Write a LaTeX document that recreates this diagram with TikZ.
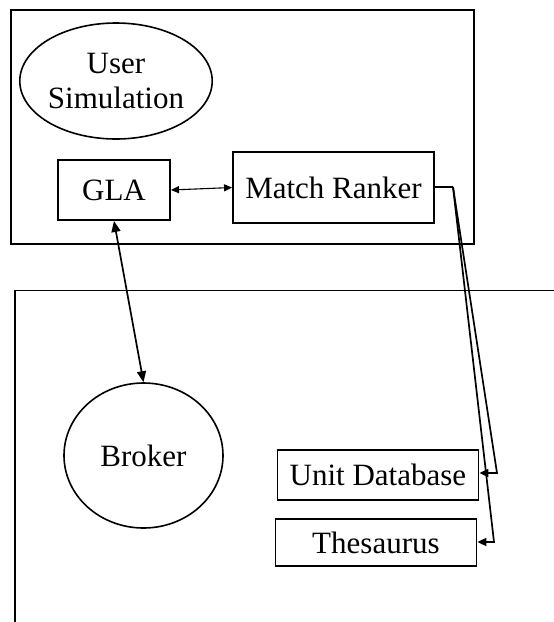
\documentclass[tikz,border=0pt]{standalone}
\usepackage{fontspec}
\setmainfont{Liberation Serif}
\usetikzlibrary{arrows.meta,shapes.geometric}
\begin{document}
\begin{tikzpicture}[x=1pt,y=-1pt,
  every node/.style={font=\fontsize{31}{37}\selectfont},
  frame/.style={draw,line width=1.9pt},
  boxnode/.style={draw,line width=1.9pt,rectangle,inner sep=0pt,anchor=center},
  oval/.style={draw,line width=1.6pt,ellipse,inner sep=0pt,align=center},
  link/.style={line width=1.7pt},
  bigtip/.style={{Triangle[length=11pt,width=9pt]}-{Triangle[length=11pt,width=9pt]}},
  smalltip/.style={{Triangle[length=8pt,width=7pt]}-{Triangle[length=8pt,width=7pt]}},
  endtip/.style={-{Triangle[length=9pt,width=8pt]}}]
\useasboundingbox (0,0) rectangle (554,622);

% outer frames
\draw[frame] (11,10) rectangle (474,244);
\draw[frame] (15,622) -- (15,290.5) -- (554,290.5);

% upper group
\node[oval,minimum width=178pt,minimum height=116pt] (user) at (116,81) {User\\[-2pt]Simulation};
\node[boxnode,minimum width=112pt,minimum height=60pt] (gla) at (114,190) {GLA};
\node[boxnode,minimum width=201pt,minimum height=71pt] (mr) at (333.5,187.5) {Match Ranker};

% lower group
\node[oval,minimum width=159pt,minimum height=145pt] (broker) at (143.5,455.5) {Broker};
\node[boxnode,minimum width=201pt,minimum height=50pt] (udb) at (276.5,475) [anchor=west] {Unit Database};
\node[boxnode,minimum width=201pt,minimum height=47pt] (thes) at (274.5,542.5) [anchor=west] {Thesaurus};

% connectors
\draw[smalltip,line width=1.1pt] (gla.east) -- (mr.west);
\draw[bigtip,link] (gla.south) -- (broker.north);

\coordinate (corner) at (453,187);
\coordinate (t1) at (497,473);
\coordinate (t2) at (494,542);
\draw[link] (mr.east |- corner) -- (corner);
\draw[link,endtip] (corner) -- (t1) -- (udb.east |- t1);
\draw[link,endtip] (corner) -- (t2) -- (thes.east |- t2);
\end{tikzpicture}
\end{document}
